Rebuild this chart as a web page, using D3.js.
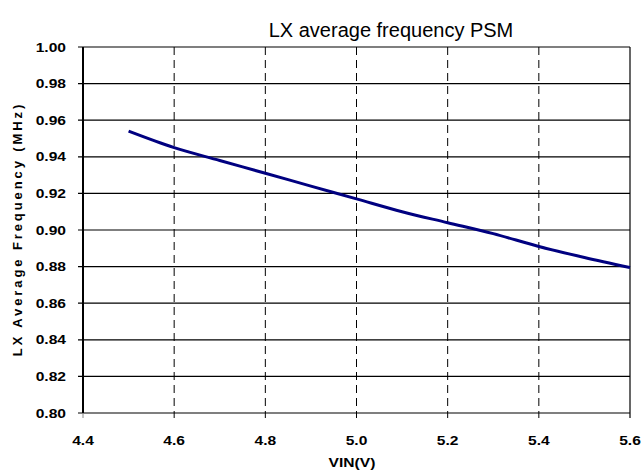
<!DOCTYPE html>
<html><head><meta charset="utf-8">
<script src="https://cdn.jsdelivr.net/npm/d3@7"></script>
<style>body{margin:0;background:#fff}svg{display:block}text{font-family:"Liberation Sans",Arial,sans-serif}</style>
</head><body><svg id="c" width="643" height="472"></svg>
<script>
const vin = [4.5, 4.6, 4.7, 4.8, 4.9, 5.0, 5.1, 5.2, 5.3, 5.4, 5.5, 5.6];
const freq = [0.954, 0.945, 0.938, 0.931, 0.924, 0.917, 0.910, 0.904, 0.898, 0.891, 0.885, 0.8795];
const xTicks = [4.4, 4.6, 4.8, 5.0, 5.2, 5.4, 5.6];
const yTicks = [0.80, 0.82, 0.84, 0.86, 0.88, 0.90, 0.92, 0.94, 0.96, 0.98, 1.00];

const svg = d3.select("#c");
const L = 83, R = 630, T = 47, B = 413;
const SX = 1.2; // horizontal stretch of the chart's text
const x = d3.scaleLinear().domain([4.4, 5.6]).range([L, R]);
const y = d3.scaleLinear().domain([0.80, 1.00]).range([B, T]);

// horizontal grid
svg.append("g").selectAll("line").data(yTicks).join("line")
  .attr("x1", L - 5).attr("x2", R).attr("y1", d => y(d)).attr("y2", d => y(d))
  .attr("stroke", "#000").attr("stroke-width", 1.2);
// vertical dashed grid
svg.append("g").selectAll("line").data(xTicks.slice(1, -1)).join("line")
  .attr("x1", d => x(d)).attr("x2", d => x(d)).attr("y1", T).attr("y2", B + 5)
  .attr("stroke", "#000").attr("stroke-width", 1).attr("stroke-dasharray", "8,5");
// right border
svg.append("line").attr("x1", R).attr("x2", R).attr("y1", T).attr("y2", B + 5)
  .attr("stroke", "#000").attr("stroke-width", 1.2);
// left tick at 4.4
svg.append("line").attr("x1", L).attr("x2", L).attr("y1", B).attr("y2", B + 5)
  .attr("stroke", "#888").attr("stroke-width", 1);
// left axis
svg.append("line").attr("x1", L).attr("x2", L).attr("y1", T).attr("y2", B)
  .attr("stroke", "#000").attr("stroke-width", 2);

// y labels
svg.append("g").selectAll("text").data(yTicks).join("text")
  .attr("transform", d => `translate(66,${y(d)}) scale(${SX},1)`).attr("dy", "0.35em")
  .attr("text-anchor", "end").attr("font-size", 13).attr("font-weight", "bold")
  .text(d => d.toFixed(2));
// x labels
svg.append("g").selectAll("text").data(xTicks).join("text")
  .attr("transform", d => `translate(${x(d)},445) scale(${SX},1)`)
  .attr("text-anchor", "middle").attr("font-size", 13).attr("font-weight", "bold")
  .text(d => d.toFixed(1));

// line
svg.append("path").datum(vin.map((v, i) => [v, freq[i]]))
  .attr("d", d3.line().x(d => x(d[0])).y(d => y(d[1])).curve(d3.curveMonotoneX))
  .attr("fill", "none").attr("stroke", "#000080").attr("stroke-width", 3);

// titles
svg.append("text").attr("x", 391).attr("y", 37).attr("text-anchor", "middle")
  .attr("font-size", 20).text("LX average frequency PSM");
svg.append("text").attr("transform", `translate(352,467) scale(${SX},1)`).attr("text-anchor", "middle")
  .attr("font-size", 13).attr("font-weight", "bold").text("VIN(V)");
svg.append("text").attr("transform", "translate(22,229) rotate(-90)").attr("text-anchor", "middle")
  .attr("font-size", 13).attr("font-weight", "bold").attr("letter-spacing", 2.9)
  .text("LX Average Frequency (MHz)");
</script></body></html>
